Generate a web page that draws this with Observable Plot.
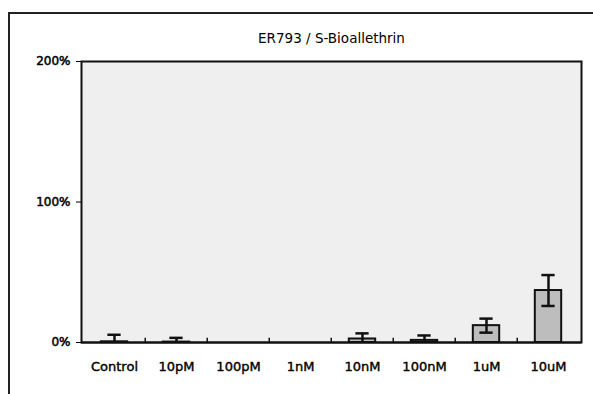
<!DOCTYPE html>
<html>
<head>
<meta charset="utf-8">
<script src="https://cdn.jsdelivr.net/npm/d3@7"></script>
<script src="https://cdn.jsdelivr.net/npm/@observablehq/plot@0.6"></script>
<style>
  html, body { margin: 0; padding: 0; background: #fff; }
  #chart { position: relative; width: 593px; height: 394px; overflow: hidden; }
  #frame { position: absolute; left: 8px; top: 12px; width: 600px; height: 400px;
           border-left: 2px solid #222; border-top: 2px solid #222; pointer-events: none; }
</style>
</head>
<body>
<div id="chart"><div id="frame"></div></div>
<script>
const title = "ER793 / S-Bioallethrin";
const categories = ["Control", "10pM", "100pM", "1nM", "10nM", "100nM", "1uM", "10uM"];
const means = [0.5, 0.3, 0, 0, 2.5, 1.5, 12, 37];
const errors = [5, 3, 0, 0, 4, 3.5, 5, 11];
const yTicks = [0, 100, 200];

const data = categories.map((c, i) => ({cat: c, v: means[i], e: errors[i],
  lo: Math.max(0, means[i] - errors[i]), hi: means[i] + errors[i]}));
const withErr = data.filter(d => d.e > 0);
const withLow = withErr.filter(d => d.v - d.e > 0);

const W = 593, H = 394, mL = 81, mR = 12, mT = 61, mB = 52;
const band = (W - mL - mR) / categories.length;

const font = "'DejaVu Sans', sans-serif";

const plot = Plot.plot({
  width: W, height: H,
  marginLeft: mL, marginRight: mR, marginTop: mT, marginBottom: mB,
  style: {fontFamily: font, fontSize: "12px", background: "transparent", color: "#000"},
  x: {domain: categories, padding: 0},
  y: {domain: [0, 200]},
  marks: [
    Plot.frame({fill: "#efefef", stroke: "#111", strokeWidth: 2}),
    Plot.barY(data, {x: "cat", y: "v", fill: "#bdbdbd", stroke: "#111", strokeWidth: 2,
      insetLeft: band * 0.285, insetRight: band * 0.285}),
    Plot.ruleX(withErr, {x: "cat", y1: "lo", y2: "hi", stroke: "#111", strokeWidth: 2.5}),
    Plot.tickY(withErr, {x: "cat", y: "hi", stroke: "#111", strokeWidth: 2.5,
      insetLeft: band * 0.39, insetRight: band * 0.39}),
    Plot.tickY(withLow, {x: "cat", y: "lo", stroke: "#111", strokeWidth: 2.5,
      insetLeft: band * 0.39, insetRight: band * 0.39}),
    Plot.ruleX(categories.slice(1), {x: d => d, y1: 0, y2: 3, dx: -band / 2, stroke: "#111", strokeWidth: 1.5}),
    Plot.ruleY([0], {stroke: "#111", strokeWidth: 2}),
    Plot.axisY({ticks: yTicks, tickFormat: d => d + "%", tickSize: 5, tickPadding: 6,
      fontSize: 12, label: null, textStroke: "#000", textStrokeWidth: 0.5}),
    Plot.axisX({tickSize: 0, tickPadding: 19, fontSize: 13, label: null,
      textStroke: "#000", textStrokeWidth: 0.4}),
    Plot.text([title], {frameAnchor: "top", dy: -28, fontSize: 13.5, fill: "#000"})
  ]
});
document.getElementById("chart").prepend(plot);
plot.style.position = "absolute";
plot.style.left = "0";
plot.style.top = "0";
</script>
</body>
</html>
